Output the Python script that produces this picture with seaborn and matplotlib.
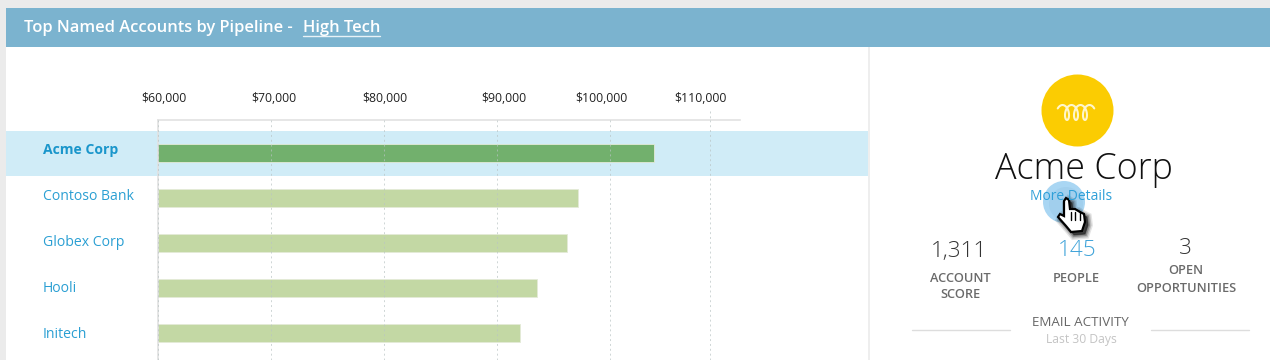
import numpy as np
import matplotlib
matplotlib.use("Agg")
import matplotlib.pyplot as plt
import seaborn as sns
from matplotlib.patches import Circle, Rectangle, Polygon

accounts = ["Acme Corp", "Contoso Bank", "Globex Corp", "Hooli", "Initech"]
pipeline = [103830, 97150, 96170, 93520, 92020]
tick_values = [60000, 70000, 80000, 90000, 100000, 108840]
tick_labels = ["$60,000", "$70,000", "$80,000", "$90,000", "$100,000", "$110,000"]
label_px = [164, 274, 384.5, 504, 601, 700]
bar_colors = ["#72B06D", "#C3D8A4", "#C3D8A4", "#C3D8A4", "#C3D8A4"]

W, H = 1270, 360
sns.set_theme(style="white")
plt.rcParams["font.family"] = ["Open Sans", "DejaVu Sans"]

fig = plt.figure(figsize=(W / 100, H / 100), dpi=100, facecolor="#EBEBEB")

# page layer in pixel coords
bg = fig.add_axes([0, 0, 1, 1])
bg.set_xlim(0, W)
bg.set_ylim(H, 0)
bg.axis("off")
bg.add_patch(Rectangle((5.5, 8), W, H, fc="white", ec="none"))
bg.add_patch(Rectangle((5.5, 8), W, 39, fc="#7BB3CF", ec="none"))
bg.add_patch(Rectangle((5.5, 131), 862, 45, fc="#D0ECF7", ec="none"))
bg.add_patch(Rectangle((868, 47), 2, H, fc="#EEEEEE", ec="none"))

# chart
ax = fig.add_axes([157.5 / W, 0, (740 - 157.5) / W, (H - 120) / H])
ax.patch.set_alpha(0)
sns.barplot(x=pipeline, y=accounts, hue=accounts, palette=bar_colors, legend=False,
            width=0.4, saturation=1, ax=ax, zorder=2)
ax.set_xlim(60000, 60000 + 582.5 / 113.2 * 10000)
ax.set_ylim(4.592, -0.74)
ax.set_xticks(tick_values)
ax.set_xticklabels([])
ax.set_yticklabels([])
ax.tick_params(length=0)
ax.set_xlabel("")
ax.set_ylabel("")
ax.xaxis.grid(True, color="#B9C4C4", lw=0.7, ls=(0, (2, 3)), alpha=0.7, zorder=3)
ax.set_axisbelow(False)
for side in ["right", "bottom"]:
    ax.spines[side].set_visible(False)
for side in ["top", "left"]:
    ax.spines[side].set_color("#E2E2E2")
    ax.spines[side].set_linewidth(1.2)
for bar in ax.patches:
    bar.set_edgecolor("#E4EAD8")
    bar.set_linewidth(0.6)

# last gridline pokes above the axis
bg.plot([710.3, 710.3], [111, 120], color="#CCD3D3", lw=0.7, ls=(0, (2, 3)))

for lab, px in zip(tick_labels, label_px):
    bg.text(px, 98, lab, ha="center", va="center", fontsize=8.8, color="#222222")

for i, name in enumerate(accounts):
    bg.text(43, 150 + 46 * i, name, ha="left", va="center", fontsize=10.05, color="#2A9FD3" if i else "#1A96CB",
            fontweight="bold" if i == 0 else "normal")

# header
bg.text(24, 27.5, "Top Named Accounts by Pipeline -", ha="left", va="center", fontsize=11.9,
        color="white", fontweight="semibold")
bg.text(303, 27.5, "High Tech", ha="left", va="center", fontsize=11.9, color="white", fontweight="semibold")
bg.plot([303, 380], [35.5, 35.5], color="#E8F2F7", lw=1)

# logo
bg.add_patch(Circle((1077.5, 110.5), 36, fc="#FBCC02", ec="none"))
th = np.linspace(-1, 6 * np.pi + 1, 300)
sx = 1076 + 1.43 * (th - 3 * np.pi) + 4 * np.sin(th)
sy = 112.5 - 7.5 * np.cos(th)
bg.plot(sx, sy, color="#FFF6CC", lw=1.5, solid_capstyle="round")

# account panel
bg.text(1083.5, 170, "Acme Corp", ha="center", va="center", fontsize=25.8, color="#111111", fontweight="light")
bg.add_patch(Circle((1064, 202), 21, fc="#A9D6F3", ec="none"))
bg.add_patch(Circle((1066, 204), 17, fc="#9CCBEA", ec="none", alpha=0.6))
bg.text(1071, 196, "More Details", ha="center", va="center", fontsize=10, color="#2E9FD8")

# pointer
hand = np.array([(1064, 201), (1066, 198), (1069, 200), (1070, 209), (1075, 209), (1080, 212), (1084, 214),
                 (1085, 222), (1082, 231), (1071, 232), (1066, 226), (1058, 217), (1060, 214), (1064, 216)])
for lw, a in [(7, 0.12), (5, 0.2), (3, 0.3), (1, 0.5)]:
    bg.add_patch(Polygon(hand + [3, 3], fc="#222222", ec="#222222", lw=lw, alpha=a))
bg.add_patch(Polygon(hand, fc="white", ec="black", lw=1.6))
for fx in [1070.5, 1075, 1080]:
    bg.plot([fx, fx], [212, 220], color="black", lw=1)

stat_vals = ["1,311", "145", "3"]
stat_x = [959, 1077, 1185]
stat_y = [251, 251, 248]
stat_col = ["#333333", "#3FA3D9", "#333333"]
for v, x, y, c in zip(stat_vals, stat_x, stat_y, stat_col):
    bg.text(x, y, v, ha="center", va="center", fontsize=16.2, color=c, fontweight="light")
for lab, x, y in [("ACCOUNT", 960, 278), ("SCORE", 960, 295), ("PEOPLE", 1076, 278),
                  ("OPEN", 1186, 271), ("OPPORTUNITIES", 1186, 288)]:
    bg.text(x, y, lab, ha="center", va="center", fontsize=9.2, color="#6A6A6A", fontweight="semibold")
bg.text(1080, 322, "EMAIL ACTIVITY", ha="center", va="center", fontsize=9.6, color="#666666")
bg.text(1081, 339, "Last 30 Days", ha="center", va="center", fontsize=8.7, color="#C4C4C4")
bg.plot([912, 1010], [330, 330], color="#DDDDDD", lw=1)
bg.plot([1151, 1249], [330, 330], color="#DDDDDD", lw=1)

fig.savefig("out.png", dpi=100, facecolor=fig.get_facecolor())
